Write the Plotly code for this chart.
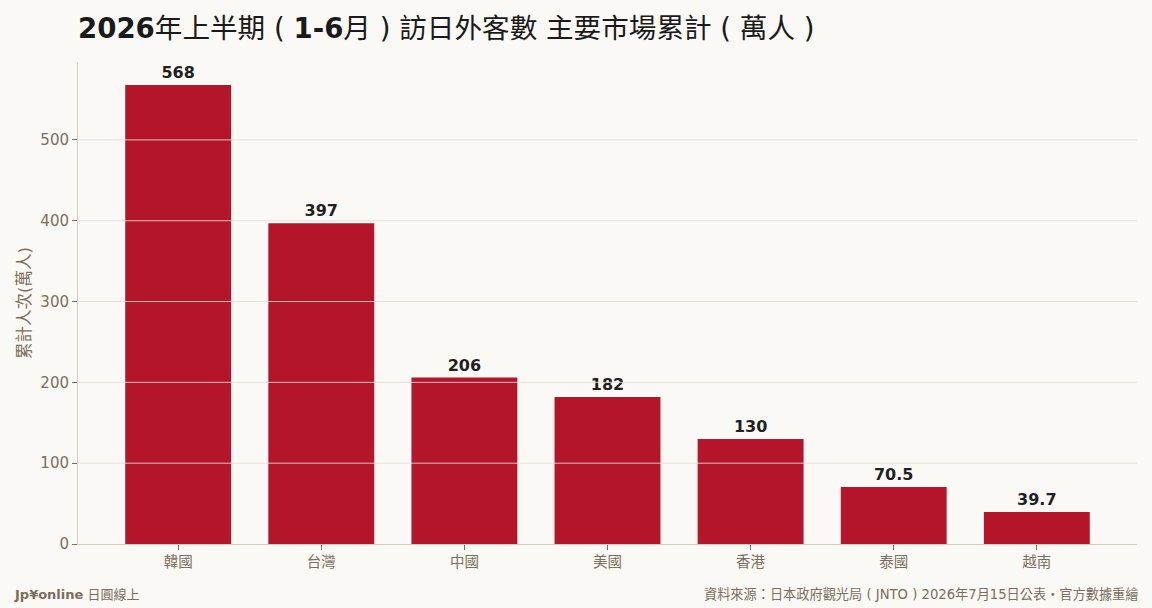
import plotly.graph_objects as go

markets = ["韓國", "台灣", "中國", "美國", "香港", "泰國", "越南"]
visitors = [568, 397, 206, 182, 130, 70.5, 39.7]
labels = ["568", "397", "206", "182", "130", "70.5", "39.7"]
y_ticks = [0, 100, 200, 300, 400, 500]

bg = "#faf9f5"
muted = "#7a6e5d"
grid = "#e4dfd3"

fig = go.Figure()
fig.add_trace(go.Bar(
    x=markets, y=visitors, text=labels, textposition="outside",
    marker=dict(color="#b5152b", line=dict(width=0)),
    width=0.74, cliponaxis=False,
    textfont=dict(family="DejaVu Sans, Noto Sans CJK TC", size=16, color="#1f1f1f", weight="bold"),
))

# gridlines drawn over the bars, like the original
for v in y_ticks[1:]:
    fig.add_shape(type="line", xref="paper", yref="y", x0=0, x1=1, y0=v, y1=v,
                  line=dict(color=grid, width=1), opacity=0.85, layer="above")

fig.update_layout(
    width=1152, height=608,
    paper_bgcolor=bg, plot_bgcolor=bg,
    margin=dict(l=78, r=15, t=62, b=64),
    font=dict(family="DejaVu Sans, Noto Sans CJK TC", color=muted),
    title=dict(
        text="<b>2026</b>年上半期 ( <b>1-6</b>月 ) 訪日外客數 主要市場累計 ( 萬人 )",
        x=78 / 1152, xanchor="left", y=0.953, yanchor="middle",
        font=dict(size=27.6, color="#1a1a1a"),
    ),
    showlegend=False,
)
fig.update_xaxes(
    range=[-0.7, 6.7], showgrid=False, showline=True, linecolor="#d3cdbf",
    ticks="outside", ticklen=5, tickcolor=muted, tickfont=dict(size=14.5, color=muted),
)
fig.update_yaxes(
    range=[0, 568 * 1.05], tickvals=y_ticks, showgrid=False, zeroline=False,
    showline=True, linecolor="#d3cdbf",
    ticks="outside", ticklen=5, tickcolor=muted, tickfont=dict(size=15, color=muted),
    title=dict(text="累計人次(萬人)", font=dict(size=16.5, color=muted), standoff=5),
)

fig.add_annotation(text="<b>Jp¥online</b> 日圓線上", xref="paper", yref="paper",
                   x=-66 / 1059, y=-50 / 482, xanchor="left", yanchor="middle",
                   showarrow=False, font=dict(size=13, color=muted))
fig.add_annotation(text="資料來源：日本政府觀光局 ( JNTO ) 2026年7月15日公表・官方數據重繪",
                   xref="paper", yref="paper", x=1 + 3 / 1059, y=-50 / 482,
                   xanchor="right", yanchor="middle",
                   showarrow=False, font=dict(size=13.2, color=muted))

fig.write_html("out.html", config={"displayModeBar": False}, post_script=(
    "document.body.style.margin='0';"
    "document.body.style.background='#faf9f5';"
))
